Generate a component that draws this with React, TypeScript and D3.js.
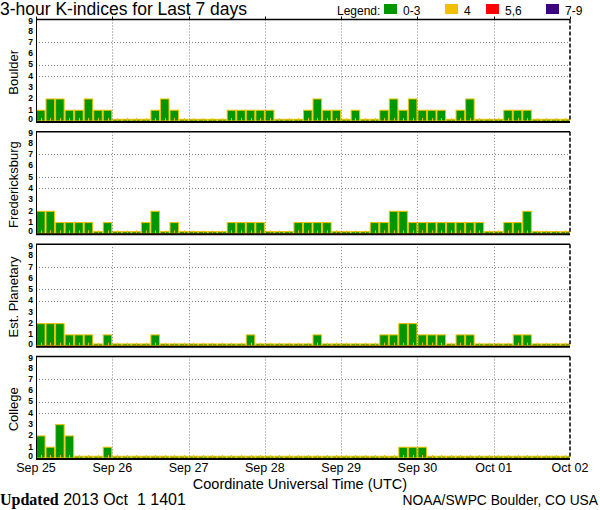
import { useRef, useEffect } from 'react'
import * as d3 from 'd3'

// K-index values, one per 3-hour interval, Sep 25 00UT .. Oct 01 21UT
const stations = ['Boulder', 'Fredericksburg', 'Est. Planetary', 'College']

const boulder = [
  1, 2, 2, 1, 1, 2, 1, 1,
  0, 0, 0, 0, 1, 2, 1, 0,
  0, 0, 0, 0, 1, 1, 1, 1,
  1, 0, 0, 0, 1, 2, 1, 1,
  0, 1, 0, 0, 1, 2, 1, 2,
  1, 1, 1, 0, 1, 2, 0, 0,
  0, 1, 1, 1, 0, 0, 0, 0,
]
const fredericksburg = [
  2, 2, 1, 1, 1, 1, 0, 1,
  0, 0, 0, 1, 2, 0, 1, 0,
  0, 0, 0, 0, 1, 1, 1, 1,
  0, 0, 0, 1, 1, 1, 1, 0,
  0, 0, 0, 1, 1, 2, 2, 1,
  1, 1, 1, 1, 1, 1, 1, 0,
  0, 1, 1, 2, 0, 0, 0, 0,
]
const planetary = [
  2, 2, 2, 1, 1, 1, 0, 1,
  0, 0, 0, 0, 1, 0, 0, 0,
  0, 0, 0, 0, 0, 0, 1, 0,
  0, 0, 0, 0, 0, 1, 0, 0,
  0, 0, 0, 0, 1, 1, 2, 2,
  1, 1, 1, 0, 1, 1, 0, 0,
  0, 0, 1, 1, 0, 0, 0, 0,
]
const college = [
  2, 1, 3, 2, 0, 0, 0, 1,
  0, 0, 0, 0, 0, 0, 0, 0,
  0, 0, 0, 0, 0, 0, 0, 0,
  0, 0, 0, 0, 0, 0, 0, 0,
  0, 0, 0, 0, 0, 0, 1, 1,
  1, 0, 0, 0, 0, 0, 0, 0,
  0, 0, 0, 0, 0, 0, 0, 0,
]
const seriesList = [boulder, fredericksburg, planetary, college]

const dayLabels = ['Sep 25', 'Sep 26', 'Sep 27', 'Sep 28', 'Sep 29', 'Sep 30', 'Oct 01', 'Oct 02']
const yTicks = [0, 1, 2, 3, 4, 5, 6, 7, 8, 9]
const gridLevels = [4, 5, 7]

const legendItems = [
  { label: '0-3', color: '#009600' },
  { label: '4', color: '#f0c000' },
  { label: '5,6', color: '#ff0000' },
  { label: '7-9', color: '#3c0082' },
]
const legendPos = [384, 445, 486, 546]

const kColor = (k: number) =>
  k >= 7 ? '#3c0082' : k >= 5 ? '#ff0000' : k >= 4 ? '#f0c000' : '#009600'

const W = 600
const H = 510
const font = "'Liberation Sans', Arial, sans-serif"

export default function App() {
  const svgRef = useRef<SVGSVGElement>(null)

  useEffect(() => {
    if (!svgRef.current) return
    const svg = d3.select(svgRef.current)
    svg.selectAll('*').remove()

    const t0 = new Date(Date.UTC(2013, 8, 25))
    const t1 = new Date(Date.UTC(2013, 9, 2))
    const x = d3.scaleUtc().domain([t0, t1]).range([36, 570])
    const days = d3.utcDay.range(t0, d3.utcDay.offset(t1, 1))
    const slotTime = (i: number) => d3.utcHour.offset(t0, i * 3)

    // panel placement
    const panel = d3.scaleBand<string>()
      .domain(stations)
      .range([19.5, 458])
      .paddingInner(0.096)
      .paddingOuter(0)

    // title
    svg.append('text')
      .attr('x', 0).attr('y', 14.5)
      .attr('font-family', font).attr('font-size', 17.5)
      .text('3-hour K-indices for Last 7 days')

    // legend
    const legend = svg.append('g').attr('font-family', font).attr('font-size', 12)
    legend.append('text').attr('x', 337).attr('y', 15).text('Legend:')
    legendItems.forEach((item, i) => {
      const lx = legendPos[i]
      legend.append('rect')
        .attr('x', lx).attr('y', 4).attr('width', 13).attr('height', 10)
        .attr('fill', item.color)
      legend.append('text').attr('x', lx + 19).attr('y', 15).text(item.label)
    })

    stations.forEach((name, si) => {
      const top = panel(name)!
      const bottom = top + panel.bandwidth()
      const y = d3.scaleLinear().domain([0, 9]).range([bottom, top])
      const g = svg.append('g')
      const data = seriesList[si]

      // bars (a zero still shows as a thin stub)
      g.selectAll('rect.bar')
        .data(data)
        .enter()
        .append('rect')
        .attr('class', 'bar')
        .attr('x', (_, i) => x(slotTime(i)) + 0.5)
        .attr('width', (_, i) => x(slotTime(i + 1)) - x(slotTime(i)) - 1)
        .attr('y', d => y(Math.max(d, 0.2)) + 0.5)
        .attr('height', d => bottom - y(Math.max(d, 0.2)) - 0.5)
        .attr('fill', d => kColor(d))
        .attr('stroke', '#f0c000')
        .attr('stroke-width', 1)

      // small centre marks at each bar foot
      const mid = (i: number) => Math.round((x(slotTime(i)) + x(slotTime(i + 1))) / 2) + 0.5
      g.selectAll('line.mark')
        .data(data)
        .enter()
        .append('line')
        .attr('x1', (_, i) => mid(i))
        .attr('x2', (_, i) => mid(i))
        .attr('y1', bottom)
        .attr('y2', bottom - 3)
        .attr('stroke', '#f0c000')

      // horizontal dotted levels
      g.selectAll('line.hgrid')
        .data(gridLevels)
        .enter()
        .append('line')
        .attr('x1', 36).attr('x2', 570)
        .attr('y1', d => Math.round(y(d)) + 0.5)
        .attr('y2', d => Math.round(y(d)) + 0.5)
        .attr('stroke', '#808080')
        .attr('stroke-dasharray', '1,2')

      // vertical day lines
      g.selectAll('line.vgrid')
        .data(days.slice(1, -1))
        .enter()
        .append('line')
        .attr('x1', d => Math.round(x(d)) + 0.5)
        .attr('x2', d => Math.round(x(d)) + 0.5)
        .attr('y1', top).attr('y2', bottom)
        .attr('stroke', '#808080')
        .attr('stroke-dasharray', '1,2')

      // frame
      g.append('line').attr('x1', 36).attr('x2', 570).attr('y1', top).attr('y2', top)
        .attr('stroke', '#000').attr('stroke-width', 1.5)
      g.append('line').attr('x1', 36).attr('x2', 570).attr('y1', bottom + 1).attr('y2', bottom + 1)
        .attr('stroke', '#000').attr('stroke-width', 2)
      g.append('line').attr('x1', 36.5).attr('x2', 36.5).attr('y1', top).attr('y2', bottom)
        .attr('stroke', '#000').attr('stroke-width', 1)
      g.append('line').attr('x1', 570).attr('x2', 570).attr('y1', top).attr('y2', bottom)
        .attr('stroke', '#000').attr('stroke-width', 1.5).attr('stroke-dasharray', '4,2')

      if (si === 0) {
        g.selectAll('line.topTick')
          .data(days)
          .enter()
          .append('line')
          .attr('x1', d => Math.round(x(d)) + 0.5)
          .attr('x2', d => Math.round(x(d)) + 0.5)
          .attr('y1', top).attr('y2', top - 3)
          .attr('stroke', '#000')
      }

      // y tick labels
      g.selectAll('text.ytick')
        .data(yTicks)
        .enter()
        .append('text')
        .attr('x', 33)
        .attr('y', d => Math.max(Math.min(y(d) + 2.8, bottom + 1), top + 4.5))
        .attr('text-anchor', 'end')
        .attr('font-family', font)
        .attr('font-size', 8.5)
        .attr('font-weight', 'bold')
        .text(d => d)

      // station label
      g.append('text')
        .attr('transform', `translate(18,${(top + bottom) / 2 + 2}) rotate(-90)`)
        .attr('text-anchor', 'middle')
        .attr('font-family', font)
        .attr('font-size', 13)
        .text(name)

      if (si === stations.length - 1) {
        g.selectAll('text.xtick')
          .data(days)
          .enter()
          .append('text')
          .attr('x', d => x(d))
          .attr('y', bottom + 14)
          .attr('text-anchor', 'middle')
          .attr('font-family', font)
          .attr('font-size', 12.5)
          .text((_, i) => dayLabels[i])
      }
    })

    svg.append('text')
      .attr('x', 300).attr('y', 489)
      .attr('text-anchor', 'middle')
      .attr('font-family', font).attr('font-size', 14.5)
      .text('Coordinate Universal Time (UTC)')

    const upd = svg.append('text').attr('x', 0).attr('y', 505).attr('font-size', 16)
      .style('white-space', 'pre')
    upd.append('tspan')
      .attr('font-family', "'Liberation Serif', serif").attr('font-weight', 'bold')
      .text('Updated')
    upd.append('tspan')
      .attr('font-family', font)
      .text(' 2013 Oct  1 1401')

    svg.append('text')
      .attr('x', 598).attr('y', 505)
      .attr('text-anchor', 'end')
      .attr('font-family', font).attr('font-size', 13.8)
      .text('NOAA/SWPC Boulder, CO USA')
  }, [])

  return (
    <svg
      ref={svgRef}
      width={W}
      height={H}
      style={{ position: 'absolute', left: 0, top: 0, background: '#fff' }}
    />
  )
}
